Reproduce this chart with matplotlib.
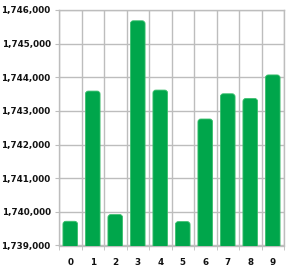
import matplotlib
matplotlib.use("Agg")
import matplotlib.pyplot as plt
from matplotlib.patches import FancyBboxPatch
from matplotlib.ticker import FuncFormatter, MultipleLocator

categories = ["0", "1", "2", "3", "4", "5", "6", "7", "8", "9"]
values = [1739720, 1743590, 1739920, 1745680, 1743620, 1739710, 1742760, 1743510, 1743370, 1744070]
ymin, ymax = 1739000, 1746000

fig = plt.figure(figsize=(2.95, 2.77), dpi=100)
ax = fig.add_axes([59 / 295, 1 - 245.5 / 277, 225 / 295, 235.5 / 277])
x = list(range(len(categories)))
bars = ax.bar(x, [v - ymin for v in values], bottom=ymin, width=0.65, color="none")
ax.set_xlim(-0.5, len(categories) - 0.5)
ax.set_ylim(ymin, ymax)

# rounded tops: replace bars with fancy boxes, aspect fixed to pixel scale
px_x = 1.0 / 22.5
px_y = 1000 / 33.6
for b in bars:
    p = FancyBboxPatch((b.get_x(), b.get_y() - 2000), b.get_width(), b.get_height() + 2000,
                       boxstyle="round,pad=0,rounding_size=0.13",
                       mutation_aspect=px_y / px_x,
                       facecolor="#00a64b", edgecolor="#3cbf6e", linewidth=0.6, zorder=3)
    ax.add_patch(p)
    b.remove()

ax.yaxis.set_major_locator(MultipleLocator(1000))
ax.yaxis.set_major_formatter(FuncFormatter(lambda v, _: f"{int(v):,}"))
ax.set_xticks(x)
ax.set_xticklabels(categories)
ax.set_xticks([i - 0.5 for i in range(len(categories) + 1)], minor=True)
ax.grid(axis="y", color="#bdbdbd", lw=1.0, zorder=0)
ax.grid(axis="x", which="minor", color="#bdbdbd", lw=1.0, zorder=0)
ax.tick_params(axis="x", which="major", length=0, pad=9, labelsize=6.3, labelcolor="#111111")
ax.tick_params(axis="x", which="minor", length=3, color="#bdbdbd")
ax.tick_params(axis="y", length=3, color="#bdbdbd", labelsize=6.3, pad=3, labelcolor="#111111")
for lab in ax.get_xticklabels() + ax.get_yticklabels():
    lab.set_fontweight("semibold")
for s in ax.spines.values():
    s.set_color("#bdbdbd")
    s.set_linewidth(1.0)

fig.savefig("out.png", dpi=100)
